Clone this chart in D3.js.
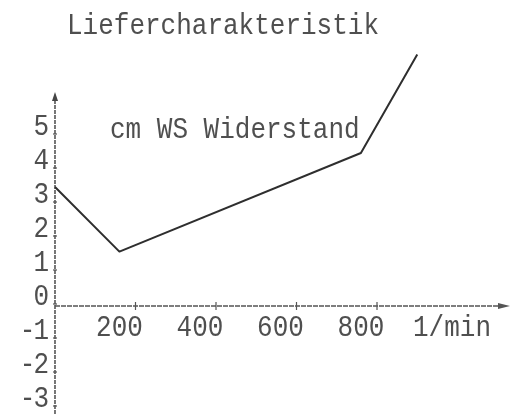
<!DOCTYPE html>
<html>
<head>
<meta charset="utf-8">
<script src="https://cdn.jsdelivr.net/npm/d3@7"></script>
<style>
  body { margin: 0; background: #fff; }
  svg { display: block; }
</style>
</head>
<body>
<svg width="518" height="415"></svg>
<script>
// Values
const xTicks = [200, 400, 600, 800];
const yTicks = [5, 4, 3, 2, 1, 0, -1, -2, -3];
const curveX = [0, 160, 760, 900];
const curveY = [3.5, 1.6, 4.5, 7.4];
const titleText = "Liefercharakteristik";
const seriesLabel = "cm WS Widerstand";
const xUnit = "1/min";

const svg = d3.select("svg");
const font = "'Liberation Mono', 'Courier New', monospace";
const ink = "#505050";

// slight blur to mimic typewriter on paper
svg.append("defs").append("filter").attr("id", "scan")
  .append("feGaussianBlur").attr("stdDeviation", 0.45);

const x = d3.scaleLinear().domain([0, 800]).range([55, 377]);
const y = d3.scaleLinear().domain([0, 5]).range([306, 136]);

const g = svg.append("g").attr("filter", "url(#scan)");

// typed text, a bit taller than the font draws it
function typed(str, px, base, anchor, spacing) {
  return g.append("text")
    .attr("transform", `translate(${px},${base}) scale(1,1.1)`)
    .attr("text-anchor", anchor || "start")
    .attr("font-family", font).attr("font-size", 26)
    .attr("letter-spacing", spacing || 0)
    .attr("fill", ink)
    .text(str);
}

// title
typed(titleText, 67, 34);

// y axis
g.append("line")
  .attr("x1", x(0)).attr("x2", x(0))
  .attr("y1", 95).attr("y2", 415)
  .attr("stroke", "#555").attr("stroke-width", 1.6)
  .attr("stroke-dasharray", "4 1");
g.append("path")
  .attr("d", `M${x(0) - 3},${101} L${x(0)},${92} L${x(0) + 3},${101} Z`)
  .attr("fill", "#444");

// x axis
g.append("line")
  .attr("x1", x(0)).attr("x2", 506)
  .attr("y1", y(0)).attr("y2", y(0))
  .attr("stroke", "#555").attr("stroke-width", 1.6)
  .attr("stroke-dasharray", "5 1");
g.append("path")
  .attr("d", `M${498},${y(0) - 3} L${510},${y(0)} L${498},${y(0) + 3} Z`)
  .attr("fill", "#555");

// x ticks
g.selectAll(".xt").data(xTicks).enter().append("line")
  .attr("x1", d => x(d)).attr("x2", d => x(d))
  .attr("y1", y(0) - 4).attr("y2", y(0) + 4)
  .attr("stroke", "#555").attr("stroke-width", 1.2);

xTicks.forEach(d => typed(d, x(d) - 16, 336, "middle"));
typed(xUnit, 413, 336);

// y ticks + labels
g.selectAll(".yt").data(yTicks).enter().append("line")
  .attr("x1", x(0) - 2).attr("x2", x(0) + 2)
  .attr("y1", d => y(d) - 2).attr("y2", d => y(d) - 2)
  .attr("stroke", "#555").attr("stroke-width", 1.2);

yTicks.forEach(d => typed(d, 47, y(d) - 1, "end", -2));

// series label
typed(seriesLabel, 110, 138);

// the curve
const line = d3.line()
  .x(d => x(d[0]))
  .y(d => y(d[1]));

g.append("path")
  .datum(d3.zip(curveX, curveY))
  .attr("d", line)
  .attr("fill", "none")
  .attr("stroke", "#2e2e2e")
  .attr("stroke-width", 2)
  .attr("stroke-linejoin", "round");
</script>
</body>
</html>
